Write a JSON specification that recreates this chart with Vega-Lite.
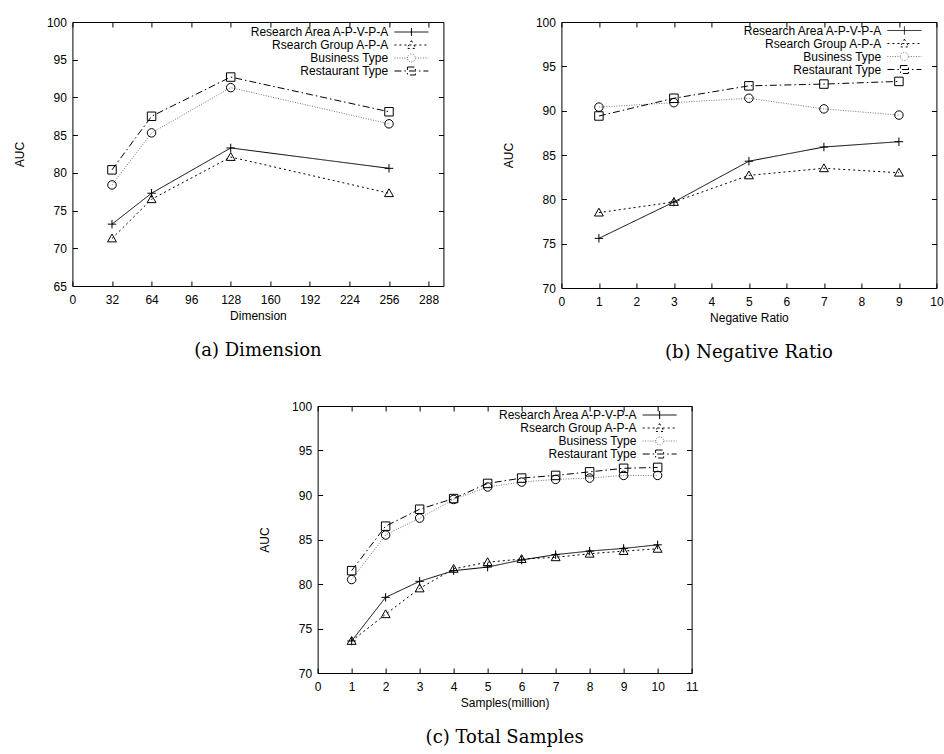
{
  "$schema": "https://vega.github.io/schema/vega-lite/v6.json",
  "padding": {"top": 15, "left": 12, "right": 0, "bottom": 0},
  "datasets": {
    "dim": [
      {"x": 32, "auc": 73.2, "series": "Research Area A-P-V-P-A"},
      {"x": 64, "auc": 77.3, "series": "Research Area A-P-V-P-A"},
      {"x": 128, "auc": 83.3, "series": "Research Area A-P-V-P-A"},
      {"x": 256, "auc": 80.6, "series": "Research Area A-P-V-P-A"},
      {"x": 32, "auc": 71.3, "series": "Rsearch Group A-P-A"},
      {"x": 64, "auc": 76.5, "series": "Rsearch Group A-P-A"},
      {"x": 128, "auc": 82.1, "series": "Rsearch Group A-P-A"},
      {"x": 256, "auc": 77.3, "series": "Rsearch Group A-P-A"},
      {"x": 32, "auc": 78.4, "series": "Business Type"},
      {"x": 64, "auc": 85.3, "series": "Business Type"},
      {"x": 128, "auc": 91.3, "series": "Business Type"},
      {"x": 256, "auc": 86.5, "series": "Business Type"},
      {"x": 32, "auc": 80.4, "series": "Restaurant Type"},
      {"x": 64, "auc": 87.5, "series": "Restaurant Type"},
      {"x": 128, "auc": 92.7, "series": "Restaurant Type"},
      {"x": 256, "auc": 88.1, "series": "Restaurant Type"}
    ],
    "neg": [
      {"x": 1, "auc": 75.6, "series": "Research Area A-P-V-P-A"},
      {"x": 3, "auc": 79.7, "series": "Research Area A-P-V-P-A"},
      {"x": 5, "auc": 84.3, "series": "Research Area A-P-V-P-A"},
      {"x": 7, "auc": 85.9, "series": "Research Area A-P-V-P-A"},
      {"x": 9, "auc": 86.5, "series": "Research Area A-P-V-P-A"},
      {"x": 1, "auc": 78.5, "series": "Rsearch Group A-P-A"},
      {"x": 3, "auc": 79.7, "series": "Rsearch Group A-P-A"},
      {"x": 5, "auc": 82.7, "series": "Rsearch Group A-P-A"},
      {"x": 7, "auc": 83.5, "series": "Rsearch Group A-P-A"},
      {"x": 9, "auc": 83.0, "series": "Rsearch Group A-P-A"},
      {"x": 1, "auc": 90.4, "series": "Business Type"},
      {"x": 3, "auc": 90.9, "series": "Business Type"},
      {"x": 5, "auc": 91.4, "series": "Business Type"},
      {"x": 7, "auc": 90.2, "series": "Business Type"},
      {"x": 9, "auc": 89.5, "series": "Business Type"},
      {"x": 1, "auc": 89.4, "series": "Restaurant Type"},
      {"x": 3, "auc": 91.4, "series": "Restaurant Type"},
      {"x": 5, "auc": 92.8, "series": "Restaurant Type"},
      {"x": 7, "auc": 93.0, "series": "Restaurant Type"},
      {"x": 9, "auc": 93.3, "series": "Restaurant Type"}
    ],
    "samp": [
      {"x": 1, "auc": 73.6, "series": "Research Area A-P-V-P-A"},
      {"x": 2, "auc": 78.5, "series": "Research Area A-P-V-P-A"},
      {"x": 3, "auc": 80.3, "series": "Research Area A-P-V-P-A"},
      {"x": 4, "auc": 81.5, "series": "Research Area A-P-V-P-A"},
      {"x": 5, "auc": 81.9, "series": "Research Area A-P-V-P-A"},
      {"x": 6, "auc": 82.7, "series": "Research Area A-P-V-P-A"},
      {"x": 7, "auc": 83.3, "series": "Research Area A-P-V-P-A"},
      {"x": 8, "auc": 83.7, "series": "Research Area A-P-V-P-A"},
      {"x": 9, "auc": 84.0, "series": "Research Area A-P-V-P-A"},
      {"x": 10, "auc": 84.4, "series": "Research Area A-P-V-P-A"},
      {"x": 1, "auc": 73.6, "series": "Rsearch Group A-P-A"},
      {"x": 2, "auc": 76.6, "series": "Rsearch Group A-P-A"},
      {"x": 3, "auc": 79.5, "series": "Rsearch Group A-P-A"},
      {"x": 4, "auc": 81.7, "series": "Rsearch Group A-P-A"},
      {"x": 5, "auc": 82.45, "series": "Rsearch Group A-P-A"},
      {"x": 6, "auc": 82.8, "series": "Rsearch Group A-P-A"},
      {"x": 7, "auc": 83.0, "series": "Rsearch Group A-P-A"},
      {"x": 8, "auc": 83.4, "series": "Rsearch Group A-P-A"},
      {"x": 9, "auc": 83.7, "series": "Rsearch Group A-P-A"},
      {"x": 10, "auc": 83.95, "series": "Rsearch Group A-P-A"},
      {"x": 1, "auc": 80.5, "series": "Business Type"},
      {"x": 2, "auc": 85.5, "series": "Business Type"},
      {"x": 3, "auc": 87.4, "series": "Business Type"},
      {"x": 4, "auc": 89.5, "series": "Business Type"},
      {"x": 5, "auc": 90.9, "series": "Business Type"},
      {"x": 6, "auc": 91.45, "series": "Business Type"},
      {"x": 7, "auc": 91.75, "series": "Business Type"},
      {"x": 8, "auc": 91.9, "series": "Business Type"},
      {"x": 9, "auc": 92.2, "series": "Business Type"},
      {"x": 10, "auc": 92.2, "series": "Business Type"},
      {"x": 1, "auc": 81.5, "series": "Restaurant Type"},
      {"x": 2, "auc": 86.5, "series": "Restaurant Type"},
      {"x": 3, "auc": 88.4, "series": "Restaurant Type"},
      {"x": 4, "auc": 89.6, "series": "Restaurant Type"},
      {"x": 5, "auc": 91.3, "series": "Restaurant Type"},
      {"x": 6, "auc": 91.9, "series": "Restaurant Type"},
      {"x": 7, "auc": 92.2, "series": "Restaurant Type"},
      {"x": 8, "auc": 92.6, "series": "Restaurant Type"},
      {"x": 9, "auc": 93.0, "series": "Restaurant Type"},
      {"x": 10, "auc": 93.1, "series": "Restaurant Type"}
    ]
  },
  "vconcat": [
    {
      "hconcat": [
        {
          "width": 371, "height": 264,
          "data": {"name": "dim"},
          "title": {"text": "(a)  Dimension"},
          "layer": [
            {
              "mark": {"type": "line", "strokeWidth": 1},
              "encoding": {
                "x": {"field": "x", "type": "quantitative", "scale": {"domain": [0, 288]}, "axis": {"orient": "bottom", "values": [0, 32, 64, 96, 128, 160, 192, 224, 256, 288], "title": "Dimension"}},
                "y": {"field": "auc", "type": "quantitative", "scale": {"domain": [65, 100]}, "axis": {"orient": "left", "values": [65, 70, 75, 80, 85, 90, 95, 100], "title": "AUC"}},
                "strokeDash": {"field": "series", "type": "nominal",
                  "scale": {"domain": ["Research Area A-P-V-P-A", "Rsearch Group A-P-A", "Business Type", "Restaurant Type"], "range": [[1, 0], [2, 3], [1, 1.5], [7, 3, 1.5, 3]]},
                  "legend": {"title": null, "orient": "none", "legendX": 172, "legendY": 3, "symbolSize": 156, "symbolOffset": 160, "labelOffset": -30.25, "labelAlign": "right", "padding": 0, "rowPadding": 0,
                    "encode": {"symbols": {"update": {
                      "shape": {"signal": "datum.value === 'Research Area A-P-V-P-A' ? 'M-2.72,0H2.72M0,-0.64V0.64' : datum.value === 'Rsearch Group A-P-A' ? 'M-2.72,0H2.72M0,-0.7L0.7,0.55H-0.7Z' : datum.value === 'Business Type' ? 'M-2.72,0H-0.64M0.64,0H2.72M-0.64,0A0.64,0.64,0,1,1,0.64,0A0.64,0.64,0,1,1,-0.64,0' : 'M-2.72,0H2.72M-0.64,-0.64H0.64V0.64H-0.64Z'"},
                      "stroke": {"signal": "datum.value === 'Business Type' ? '#666' : '#000'"},
                      "strokeDash": {"signal": "datum.value === 'Rsearch Group A-P-A' ? [2, 2] : datum.value === 'Business Type' ? [1, 1.2] : datum.value === 'Restaurant Type' ? [6, 3, 1.5, 3] : [1, 0]"},
                      "size": {"value": 156},
                      "fill": {"value": "transparent"}}}}}},
                "color": {"field": "series", "type": "nominal",
                  "scale": {"domain": ["Research Area A-P-V-P-A", "Rsearch Group A-P-A", "Business Type", "Restaurant Type"], "range": ["#000", "#000", "#777", "#000"]},
                  "legend": {"title": null, "orient": "none", "legendX": 172, "legendY": 3, "symbolSize": 156, "symbolOffset": 160, "labelOffset": -30.25, "labelAlign": "right", "padding": 0, "rowPadding": 0,
                    "encode": {"symbols": {"update": {
                      "shape": {"signal": "datum.value === 'Research Area A-P-V-P-A' ? 'M-2.72,0H2.72M0,-0.64V0.64' : datum.value === 'Rsearch Group A-P-A' ? 'M-2.72,0H2.72M0,-0.7L0.7,0.55H-0.7Z' : datum.value === 'Business Type' ? 'M-2.72,0H-0.64M0.64,0H2.72M-0.64,0A0.64,0.64,0,1,1,0.64,0A0.64,0.64,0,1,1,-0.64,0' : 'M-2.72,0H2.72M-0.64,-0.64H0.64V0.64H-0.64Z'"},
                      "stroke": {"signal": "datum.value === 'Business Type' ? '#666' : '#000'"},
                      "strokeDash": {"signal": "datum.value === 'Rsearch Group A-P-A' ? [2, 2] : datum.value === 'Business Type' ? [1, 1.2] : datum.value === 'Restaurant Type' ? [6, 3, 1.5, 3] : [1, 0]"},
                      "size": {"value": 156},
                      "fill": {"value": "transparent"}}}}}}
              }
            },
            {
              "mark": {"type": "point", "filled": false, "size": 72, "strokeWidth": 1, "color": "#000", "opacity": 1},
              "encoding": {
                "x": {"field": "x", "type": "quantitative", "axis": {"orient": "top", "values": [0, 32, 64, 96, 128, 160, 192, 224, 256, 288], "labels": false, "title": null}},
                "y": {"field": "auc", "type": "quantitative", "axis": {"orient": "right", "values": [65, 70, 75, 80, 85, 90, 95, 100], "labels": false, "title": null}},
                "shape": {"condition": [
                  {"test": "datum.series === 'Research Area A-P-V-P-A'", "value": "M-1,0H1M0,-1V1"},
                  {"test": "datum.series === 'Rsearch Group A-P-A'", "value": "M0,-1.05L1.05,0.8H-1.05Z"},
                  {"test": "datum.series === 'Business Type'", "value": "circle"}], "value": "square"}
              }
            }
          ],
          "resolve": {"axis": {"x": "independent", "y": "independent"}}
        },
        {
          "width": 375, "height": 266,
          "data": {"name": "neg"},
          "title": {"text": "(b)  Negative Ratio"},
          "layer": [
            {
              "mark": {"type": "line", "strokeWidth": 1},
              "encoding": {
                "x": {"field": "x", "type": "quantitative", "scale": {"domain": [0, 10]}, "axis": {"orient": "bottom", "values": [0, 1, 2, 3, 4, 5, 6, 7, 8, 9, 10], "title": "Negative Ratio"}},
                "y": {"field": "auc", "type": "quantitative", "scale": {"domain": [70, 100]}, "axis": {"orient": "left", "values": [70, 75, 80, 85, 90, 95, 100], "title": "AUC"}},
                "strokeDash": {"field": "series", "type": "nominal",
                  "scale": {"domain": ["Research Area A-P-V-P-A", "Rsearch Group A-P-A", "Business Type", "Restaurant Type"], "range": [[1, 0], [2, 3], [1, 1.5], [7, 3, 1.5, 3]]},
                  "legend": {"title": null, "orient": "none", "legendX": 176, "legendY": 1.5, "symbolSize": 156, "symbolOffset": 160, "labelOffset": -30.25, "labelAlign": "right", "padding": 0, "rowPadding": 0,
                    "encode": {"symbols": {"update": {
                      "shape": {"signal": "datum.value === 'Research Area A-P-V-P-A' ? 'M-2.72,0H2.72M0,-0.64V0.64' : datum.value === 'Rsearch Group A-P-A' ? 'M-2.72,0H2.72M0,-0.7L0.7,0.55H-0.7Z' : datum.value === 'Business Type' ? 'M-2.72,0H-0.64M0.64,0H2.72M-0.64,0A0.64,0.64,0,1,1,0.64,0A0.64,0.64,0,1,1,-0.64,0' : 'M-2.72,0H2.72M-0.64,-0.64H0.64V0.64H-0.64Z'"},
                      "stroke": {"signal": "datum.value === 'Business Type' ? '#666' : '#000'"},
                      "strokeDash": {"signal": "datum.value === 'Rsearch Group A-P-A' ? [2, 2] : datum.value === 'Business Type' ? [1, 1.2] : datum.value === 'Restaurant Type' ? [6, 3, 1.5, 3] : [1, 0]"},
                      "size": {"value": 156},
                      "fill": {"value": "transparent"}}}}}},
                "color": {"field": "series", "type": "nominal",
                  "scale": {"domain": ["Research Area A-P-V-P-A", "Rsearch Group A-P-A", "Business Type", "Restaurant Type"], "range": ["#000", "#000", "#777", "#000"]},
                  "legend": {"title": null, "orient": "none", "legendX": 176, "legendY": 1.5, "symbolSize": 156, "symbolOffset": 160, "labelOffset": -30.25, "labelAlign": "right", "padding": 0, "rowPadding": 0,
                    "encode": {"symbols": {"update": {
                      "shape": {"signal": "datum.value === 'Research Area A-P-V-P-A' ? 'M-2.72,0H2.72M0,-0.64V0.64' : datum.value === 'Rsearch Group A-P-A' ? 'M-2.72,0H2.72M0,-0.7L0.7,0.55H-0.7Z' : datum.value === 'Business Type' ? 'M-2.72,0H-0.64M0.64,0H2.72M-0.64,0A0.64,0.64,0,1,1,0.64,0A0.64,0.64,0,1,1,-0.64,0' : 'M-2.72,0H2.72M-0.64,-0.64H0.64V0.64H-0.64Z'"},
                      "stroke": {"signal": "datum.value === 'Business Type' ? '#666' : '#000'"},
                      "strokeDash": {"signal": "datum.value === 'Rsearch Group A-P-A' ? [2, 2] : datum.value === 'Business Type' ? [1, 1.2] : datum.value === 'Restaurant Type' ? [6, 3, 1.5, 3] : [1, 0]"},
                      "size": {"value": 156},
                      "fill": {"value": "transparent"}}}}}}
              }
            },
            {
              "mark": {"type": "point", "filled": false, "size": 72, "strokeWidth": 1, "color": "#000", "opacity": 1},
              "encoding": {
                "x": {"field": "x", "type": "quantitative", "axis": {"orient": "top", "values": [0, 1, 2, 3, 4, 5, 6, 7, 8, 9, 10], "labels": false, "title": null}},
                "y": {"field": "auc", "type": "quantitative", "axis": {"orient": "right", "values": [70, 75, 80, 85, 90, 95, 100], "labels": false, "title": null}},
                "shape": {"condition": [
                  {"test": "datum.series === 'Research Area A-P-V-P-A'", "value": "M-1,0H1M0,-1V1"},
                  {"test": "datum.series === 'Rsearch Group A-P-A'", "value": "M0,-1.05L1.05,0.8H-1.05Z"},
                  {"test": "datum.series === 'Business Type'", "value": "circle"}], "value": "square"}
              }
            }
          ],
          "resolve": {"axis": {"x": "independent", "y": "independent"}}
        }
      ],
      "spacing": 57,
      "resolve": {"scale": {"strokeDash": "independent", "color": "independent"}, "legend": {"strokeDash": "independent", "color": "independent"}}
    },
    {
      "width": 374, "height": 267,
      "data": {"name": "samp"},
      "title": {"text": "(c)  Total Samples"},
      "layer": [
        {
          "mark": {"type": "line", "strokeWidth": 1},
          "encoding": {
            "x": {"field": "x", "type": "quantitative", "scale": {"domain": [0, 11]}, "axis": {"orient": "bottom", "values": [0, 1, 2, 3, 4, 5, 6, 7, 8, 9, 10, 11], "title": "Samples(million)"}},
            "y": {"field": "auc", "type": "quantitative", "scale": {"domain": [70, 100]}, "axis": {"orient": "left", "values": [70, 75, 80, 85, 90, 95, 100], "title": "AUC"}},
            "strokeDash": {"field": "series", "type": "nominal",
              "scale": {"domain": ["Research Area A-P-V-P-A", "Rsearch Group A-P-A", "Business Type", "Restaurant Type"], "range": [[1, 0], [2, 3], [1, 1.5], [7, 3, 1.5, 3]]},
              "legend": {"title": null, "orient": "none", "legendX": 175, "legendY": 2, "symbolSize": 156, "symbolOffset": 160, "labelOffset": -30.25, "labelAlign": "right", "padding": 0, "rowPadding": 0,
                "encode": {"symbols": {"update": {
                  "shape": {"signal": "datum.value === 'Research Area A-P-V-P-A' ? 'M-2.72,0H2.72M0,-0.64V0.64' : datum.value === 'Rsearch Group A-P-A' ? 'M-2.72,0H2.72M0,-0.7L0.7,0.55H-0.7Z' : datum.value === 'Business Type' ? 'M-2.72,0H-0.64M0.64,0H2.72M-0.64,0A0.64,0.64,0,1,1,0.64,0A0.64,0.64,0,1,1,-0.64,0' : 'M-2.72,0H2.72M-0.64,-0.64H0.64V0.64H-0.64Z'"},
                  "stroke": {"signal": "datum.value === 'Business Type' ? '#666' : '#000'"},
                  "strokeDash": {"signal": "datum.value === 'Rsearch Group A-P-A' ? [2, 2] : datum.value === 'Business Type' ? [1, 1.2] : datum.value === 'Restaurant Type' ? [6, 3, 1.5, 3] : [1, 0]"},
                  "size": {"value": 156},
                  "fill": {"value": "transparent"}}}}}},
            "color": {"field": "series", "type": "nominal",
              "scale": {"domain": ["Research Area A-P-V-P-A", "Rsearch Group A-P-A", "Business Type", "Restaurant Type"], "range": ["#000", "#000", "#777", "#000"]},
              "legend": {"title": null, "orient": "none", "legendX": 175, "legendY": 2, "symbolSize": 156, "symbolOffset": 160, "labelOffset": -30.25, "labelAlign": "right", "padding": 0, "rowPadding": 0,
                "encode": {"symbols": {"update": {
                  "shape": {"signal": "datum.value === 'Research Area A-P-V-P-A' ? 'M-2.72,0H2.72M0,-0.64V0.64' : datum.value === 'Rsearch Group A-P-A' ? 'M-2.72,0H2.72M0,-0.7L0.7,0.55H-0.7Z' : datum.value === 'Business Type' ? 'M-2.72,0H-0.64M0.64,0H2.72M-0.64,0A0.64,0.64,0,1,1,0.64,0A0.64,0.64,0,1,1,-0.64,0' : 'M-2.72,0H2.72M-0.64,-0.64H0.64V0.64H-0.64Z'"},
                  "stroke": {"signal": "datum.value === 'Business Type' ? '#666' : '#000'"},
                  "strokeDash": {"signal": "datum.value === 'Rsearch Group A-P-A' ? [2, 2] : datum.value === 'Business Type' ? [1, 1.2] : datum.value === 'Restaurant Type' ? [6, 3, 1.5, 3] : [1, 0]"},
                  "size": {"value": 156},
                  "fill": {"value": "transparent"}}}}}}
          }
        },
        {
          "mark": {"type": "point", "filled": false, "size": 72, "strokeWidth": 1, "color": "#000", "opacity": 1},
          "encoding": {
            "x": {"field": "x", "type": "quantitative", "axis": {"orient": "top", "values": [0, 1, 2, 3, 4, 5, 6, 7, 8, 9, 10, 11], "labels": false, "title": null}},
            "y": {"field": "auc", "type": "quantitative", "axis": {"orient": "right", "values": [70, 75, 80, 85, 90, 95, 100], "labels": false, "title": null}},
            "shape": {"condition": [
              {"test": "datum.series === 'Research Area A-P-V-P-A'", "value": "M-1,0H1M0,-1V1"},
              {"test": "datum.series === 'Rsearch Group A-P-A'", "value": "M0,-1.05L1.05,0.8H-1.05Z"},
              {"test": "datum.series === 'Business Type'", "value": "circle"}], "value": "square"}
          }
        }
      ],
      "resolve": {"axis": {"x": "independent", "y": "independent"}}
    }
  ],
  "spacing": 36,
  "center": true,
  "resolve": {"scale": {"strokeDash": "independent", "color": "independent"}, "legend": {"strokeDash": "independent", "color": "independent"}},
  "config": {
    "view": {"stroke": "#000", "strokeWidth": 1},
    "axis": {"grid": false, "domain": false, "ticks": true, "tickSize": -5, "tickColor": "#000", "tickWidth": 1, "labelFont": "Liberation Sans", "labelFontSize": 12, "labelColor": "#000", "titleFont": "Liberation Sans", "titleFontSize": 12, "titleFontWeight": "normal", "titleColor": "#000", "labelFlush": false, "labelOverlap": false, "minExtent": 0, "maxExtent": 200},
    "axisX": {"labelPadding": 13, "titlePadding": 5},
    "axisY": {"labelPadding": 11, "titlePadding": 20},
    "legend": {"labelFont": "Liberation Sans", "labelFontSize": 12, "labelColor": "#000", "symbolStrokeWidth": 1, "symbolStrokeColor": "#000"},
    "title": {"font": "DejaVu Serif", "fontSize": 18, "fontWeight": "normal", "color": "#000", "orient": "bottom", "frame": "group", "anchor": "middle", "offset": 21}
  }
}
